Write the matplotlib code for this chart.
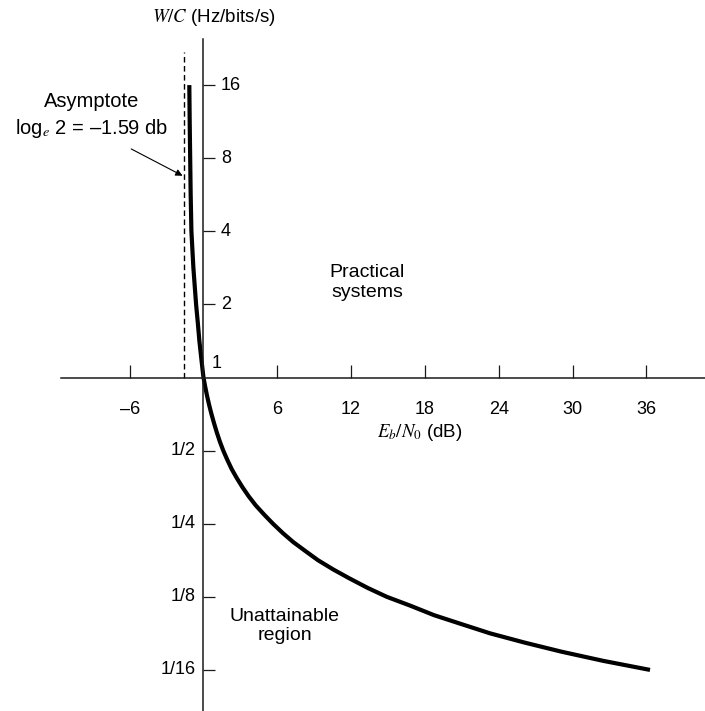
import matplotlib
matplotlib.use("Agg")
import matplotlib.pyplot as plt
from matplotlib.ticker import NullLocator

plt.rcParams['font.family'] = ['Liberation Sans', 'DejaVu Sans']
plt.rcParams['mathtext.fontset'] = 'stix'

# Shannon limit curve: W/C (bandwidth per bit rate) vs Eb/N0 in dB
wc_ratio = [16, 11.31, 8, 5.66, 4, 2.83, 2, 1.68, 1.41, 1.19, 1,
            0.917, 0.841, 0.771, 0.707, 0.648, 0.595, 0.545, 0.5,
            0.459, 0.42, 0.386, 0.354, 0.324, 0.297, 0.273, 0.25,
            0.229, 0.21, 0.193, 0.177, 0.162, 0.149, 0.136, 0.125,
            0.115, 0.105, 0.0964, 0.0884, 0.081, 0.0743, 0.0681, 0.0625]
ebno_db = [-1.15, -1.12, -1.08, -1.04, -0.98, -0.82, -0.60, -0.46, -0.33, -0.17, 0.0,
           0.14, 0.29, 0.46, 0.65, 0.86, 1.08, 1.33, 1.61,
           1.93, 2.29, 2.70, 3.16, 3.68, 4.26, 4.92, 5.65,
           6.44, 7.30, 8.28, 9.30, 10.55, 11.85, 13.35, 14.9,
           16.8, 18.75, 21.0, 23.3, 26.1, 29.1, 32.5, 36.3]

x_ticks = [-6, 6, 12, 18, 24, 30, 36]
x_labels = ['\u20136', '6', '12', '18', '24', '30', '36']
y_ticks_upper = [2, 4, 8, 16]
y_ticks_lower = [1 / 2, 1 / 4, 1 / 8, 1 / 16]
y_labels_upper = ['2', '4', '8', '16']
y_labels_lower = ['1/2', '1/4', '1/8', '1/16']
asymptote_db = -1.59

fig = plt.figure(figsize=(7.05, 7.11), dpi=100)
ax = fig.add_axes([0, 0, 1, 1])

# axis ranges chosen so the axes cross where they do in the reference
ax.set_yscale('log', base=2)
ax.set_xlim(-16.54, 40.77)
ax.set_ylim(2 ** -4.562, 2 ** 5.164)

axis_color = '#1a1a1a'
for side in ['top', 'right']:
    ax.spines[side].set_visible(False)
ax.spines['left'].set_position(('data', 0))
ax.spines['bottom'].set_position(('data', 1))
ax.spines['left'].set_bounds(2 ** -4.562, 2 ** 4.63)
ax.spines['bottom'].set_bounds(-11.6, 40.77)
for side in ['left', 'bottom']:
    ax.spines[side].set_color(axis_color)
    ax.spines[side].set_linewidth(1.1)

tick_size = 13
text_size = 14

# x ticks point up, labels below the axis
ax.set_xticks(x_ticks)
ax.set_xticklabels(x_labels)
ax.tick_params(axis='x', direction='in', length=9.5, width=0.9, color=axis_color,
               pad=17, labelsize=tick_size)

# y ticks point right, labels placed by hand (upper on the right, lower on the left)
ax.yaxis.set_minor_locator(NullLocator())
ax.set_yticks(y_ticks_upper + y_ticks_lower)
ax.set_yticklabels([])
ax.tick_params(axis='y', direction='in', length=8.5, width=0.9, color=axis_color)

for v, lab in zip(y_ticks_upper, y_labels_upper):
    ax.annotate(lab, (0, v), xytext=(12.5, 0), textcoords='offset points',
                ha='left', va='center', fontsize=tick_size)
for v, lab in zip(y_ticks_lower, y_labels_lower):
    ax.annotate(lab, (0, v), xytext=(-5.5, 0), textcoords='offset points',
                ha='right', va='center', fontsize=tick_size)
ax.annotate('1', (0, 1), xytext=(6, 10), textcoords='offset points',
            ha='left', va='center', fontsize=tick_size)

# the curve
ax.plot(ebno_db, wc_ratio, color='black', lw=3.0, solid_capstyle='butt',
        solid_joinstyle='round')

# asymptote
ax.plot([asymptote_db, asymptote_db], [1, 2 ** 4.45], color='black', lw=1.0,
        linestyle=(0, (4, 2.5)))

# text
ax.text(-4.2, 2 ** 4.92, r'$W/C$ (Hz/bits/s)', ha='left', va='center', fontsize=13.5)
ax.text(17.6, 2 ** -0.746, r'$E_b/N_0$ (dB)', ha='center', va='center', fontsize=13.5)
ax.text(-9.1, 2 ** 3.77, 'Asymptote', ha='center', va='center', fontsize=text_size + 0.5)
ax.annotate(r'log$_e$ 2 = –1.59 db', xy=(-1.7, 2 ** 2.76), xytext=(-9.1, 2 ** 3.41),
            ha='center', va='center', fontsize=text_size + 0.5,
            arrowprops=dict(arrowstyle='-|>', color='black', lw=0.8,
                            mutation_scale=10, shrinkA=10, shrinkB=0))
ax.text(13.3, 2 ** 1.3, 'Practical\nsystems', ha='center', va='center',
        fontsize=text_size, linespacing=1.2)
ax.text(6.6, 2 ** -3.4, 'Unattainable\nregion', ha='center', va='center',
        fontsize=text_size, linespacing=1.2)

fig.savefig('out.png', dpi=100)
